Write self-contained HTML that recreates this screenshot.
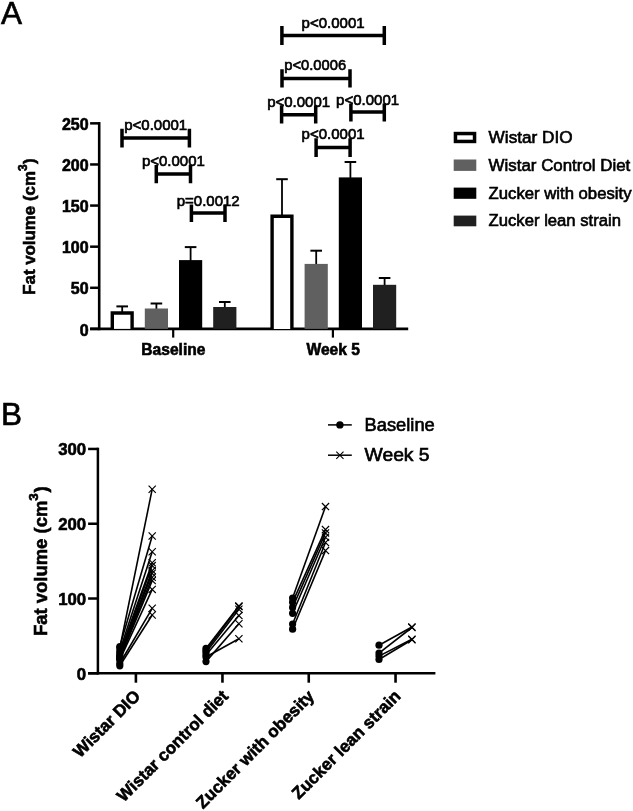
<!DOCTYPE html>
<html><head><meta charset="utf-8"><style>
html,body{margin:0;padding:0;background:#fff;width:633px;height:811px;overflow:hidden;font-family:"Liberation Sans",sans-serif;}
svg{display:block;will-change:transform}
text{stroke:#000;stroke-width:0.65px}
text.b{stroke-width:0.6px}
</style></head><body>
<svg width="633" height="811" viewBox="0 0 633 811"><text x="1" y="23.6" font-size="31.5" font-family="Liberation Sans, sans-serif">A</text>
<line x1="99.2" y1="122.05" x2="99.2" y2="330.20" stroke="#000" stroke-width="2.6"/>
<line x1="90.1" y1="328.90" x2="99.2" y2="328.90" stroke="#000" stroke-width="2.5"/>
<text x="88.6" y="335.60" font-size="16" font-weight="bold" class="b" text-anchor="end" font-family="Liberation Sans, sans-serif">0</text>
<line x1="90.1" y1="287.79" x2="99.2" y2="287.79" stroke="#000" stroke-width="2.5"/>
<text x="88.6" y="294.49" font-size="16" font-weight="bold" class="b" text-anchor="end" font-family="Liberation Sans, sans-serif">50</text>
<line x1="90.1" y1="246.68" x2="99.2" y2="246.68" stroke="#000" stroke-width="2.5"/>
<text x="88.6" y="253.38" font-size="16" font-weight="bold" class="b" text-anchor="end" font-family="Liberation Sans, sans-serif">100</text>
<line x1="90.1" y1="205.57" x2="99.2" y2="205.57" stroke="#000" stroke-width="2.5"/>
<text x="88.6" y="212.27" font-size="16" font-weight="bold" class="b" text-anchor="end" font-family="Liberation Sans, sans-serif">150</text>
<line x1="90.1" y1="164.46" x2="99.2" y2="164.46" stroke="#000" stroke-width="2.5"/>
<text x="88.6" y="171.16" font-size="16" font-weight="bold" class="b" text-anchor="end" font-family="Liberation Sans, sans-serif">200</text>
<line x1="90.1" y1="123.35" x2="99.2" y2="123.35" stroke="#000" stroke-width="2.5"/>
<text x="88.6" y="130.05" font-size="16" font-weight="bold" class="b" text-anchor="end" font-family="Liberation Sans, sans-serif">250</text>
<line x1="90.1" y1="328.9" x2="408.2" y2="328.9" stroke="#000" stroke-width="2.7"/>
<line x1="173.2" y1="328.9" x2="173.2" y2="337.6" stroke="#000" stroke-width="2.2"/>
<text x="173.4" y="355" font-size="15.6" font-weight="bold" class="b" text-anchor="middle" font-family="Liberation Sans, sans-serif">Baseline</text>
<line x1="332.9" y1="328.9" x2="332.9" y2="337.6" stroke="#000" stroke-width="2.2"/>
<text x="333.2" y="355" font-size="15.6" font-weight="bold" class="b" text-anchor="middle" font-family="Liberation Sans, sans-serif">Week 5</text>
<line x1="122.20" y1="306.40" x2="122.20" y2="312.30" stroke="#000" stroke-width="1.8"/>
<line x1="116.40" y1="306.40" x2="128.00" y2="306.40" stroke="#000" stroke-width="2.0"/>
<path d="M112.30 328.90V313.00H132.10V328.90" fill="#fff" stroke="#000" stroke-width="3.4"/>
<line x1="156.40" y1="303.50" x2="156.40" y2="309.50" stroke="#000" stroke-width="1.8"/>
<line x1="150.60" y1="303.50" x2="162.20" y2="303.50" stroke="#000" stroke-width="2.0"/>
<rect x="144.80" y="308.50" width="23.20" height="20.40" fill="#606060"/>
<line x1="190.60" y1="247.10" x2="190.60" y2="261.10" stroke="#000" stroke-width="1.8"/>
<line x1="184.80" y1="247.10" x2="196.40" y2="247.10" stroke="#000" stroke-width="2.0"/>
<rect x="179.00" y="260.10" width="23.20" height="68.80" fill="#000"/>
<line x1="224.80" y1="302.00" x2="224.80" y2="308.00" stroke="#000" stroke-width="1.8"/>
<line x1="219.00" y1="302.00" x2="230.60" y2="302.00" stroke="#000" stroke-width="2.0"/>
<rect x="213.20" y="307.00" width="23.20" height="21.90" fill="#202020"/>
<line x1="282.00" y1="179.20" x2="282.00" y2="215.60" stroke="#000" stroke-width="1.8"/>
<line x1="276.20" y1="179.20" x2="287.80" y2="179.20" stroke="#000" stroke-width="2.0"/>
<path d="M272.10 328.90V216.30H291.90V328.90" fill="#fff" stroke="#000" stroke-width="3.4"/>
<line x1="316.20" y1="250.70" x2="316.20" y2="264.90" stroke="#000" stroke-width="1.8"/>
<line x1="310.40" y1="250.70" x2="322.00" y2="250.70" stroke="#000" stroke-width="2.0"/>
<rect x="304.60" y="263.90" width="23.20" height="65.00" fill="#606060"/>
<line x1="350.40" y1="162.00" x2="350.40" y2="178.40" stroke="#000" stroke-width="1.8"/>
<line x1="344.60" y1="162.00" x2="356.20" y2="162.00" stroke="#000" stroke-width="2.0"/>
<rect x="338.80" y="177.40" width="23.20" height="151.50" fill="#000"/>
<line x1="384.60" y1="278.00" x2="384.60" y2="285.80" stroke="#000" stroke-width="1.8"/>
<line x1="378.80" y1="278.00" x2="390.40" y2="278.00" stroke="#000" stroke-width="2.0"/>
<rect x="373.00" y="284.80" width="23.20" height="44.10" fill="#202020"/>
<path d="M122.00 128.80V147.40M189.40 128.80V147.40M122.00 138.10H189.40" stroke="#000" stroke-width="3.5" fill="none"/>
<text x="155.70" y="129.60" font-size="15" text-anchor="middle" font-family="Liberation Sans, sans-serif">p&lt;0.0001</text>
<path d="M156.30 165.00V183.20M190.50 165.00V183.20M156.30 174.10H190.50" stroke="#000" stroke-width="3.5" fill="none"/>
<text x="173.40" y="166.00" font-size="15" text-anchor="middle" font-family="Liberation Sans, sans-serif">p&lt;0.0001</text>
<path d="M191.40 204.50V221.90M225.00 204.50V221.90M191.40 213.00H225.00" stroke="#000" stroke-width="3.5" fill="none"/>
<text x="208.20" y="205.70" font-size="15" text-anchor="middle" font-family="Liberation Sans, sans-serif">p=0.0012</text>
<path d="M281.90 26.10V45.10M384.30 26.10V45.10M281.90 35.60H384.30" stroke="#000" stroke-width="3.5" fill="none"/>
<text x="333.10" y="28.20" font-size="15" text-anchor="middle" font-family="Liberation Sans, sans-serif">p&lt;0.0001</text>
<path d="M282.00 69.20V87.40M350.00 69.20V87.40M282.00 78.60H350.00" stroke="#000" stroke-width="3.5" fill="none"/>
<text x="315.20" y="70.00" font-size="15" text-anchor="middle" textLength="61.8" lengthAdjust="spacingAndGlyphs" font-family="Liberation Sans, sans-serif">p&lt;0.0006</text>
<path d="M281.60 105.30V123.40M315.70 105.30V123.40M281.60 114.80H315.70" stroke="#000" stroke-width="3.5" fill="none"/>
<text x="298.65" y="106.90" font-size="15" text-anchor="middle" font-family="Liberation Sans, sans-serif">p&lt;0.0001</text>
<path d="M350.90 103.50V121.60M384.30 103.50V121.60M350.90 112.10H384.30" stroke="#000" stroke-width="3.5" fill="none"/>
<text x="367.60" y="105.40" font-size="15" text-anchor="middle" font-family="Liberation Sans, sans-serif">p&lt;0.0001</text>
<path d="M316.10 138.30V157.00M350.10 138.30V157.00M316.10 147.60H350.10" stroke="#000" stroke-width="3.5" fill="none"/>
<text x="333.10" y="138.80" font-size="15" text-anchor="middle" font-family="Liberation Sans, sans-serif">p&lt;0.0001</text>
<rect x="455.45" y="133.55" width="19.10" height="7.90" fill="#fff" stroke="#000" stroke-width="3.5"/>
<text x="488.6" y="143.00" font-size="17.2" font-family="Liberation Sans, sans-serif">Wistar DIO</text>
<rect x="453.7" y="159.50" width="22.6" height="11.40" fill="#606060"/>
<text x="488.6" y="170.70" font-size="17.2" textLength="141.7" lengthAdjust="spacingAndGlyphs" font-family="Liberation Sans, sans-serif">Wistar Control Diet</text>
<rect x="453.7" y="187.60" width="22.6" height="11.20" fill="#000"/>
<text x="488.6" y="198.60" font-size="17.2" textLength="142.9" lengthAdjust="spacingAndGlyphs" font-family="Liberation Sans, sans-serif">Zucker with obesity</text>
<rect x="453.7" y="215.60" width="22.6" height="10.70" fill="#202020"/>
<text x="488.6" y="226.10" font-size="17.2" textLength="132.4" lengthAdjust="spacingAndGlyphs" font-family="Liberation Sans, sans-serif">Zucker lean strain</text>
<text transform="translate(34.6,294.8) rotate(-90)" font-size="17" font-weight="bold" class="b" font-family="Liberation Sans, sans-serif"><tspan textLength="123.7" lengthAdjust="spacingAndGlyphs">Fat volume (cm</tspan><tspan font-size="12" dy="-8">3</tspan><tspan dy="8" dx="0.5">)</tspan></text>
<text x="0.9" y="424.9" font-size="31.5" font-family="Liberation Sans, sans-serif">B</text>
<line x1="97.9" y1="447.70" x2="97.9" y2="674.55" stroke="#000" stroke-width="2.5"/>
<line x1="88.1" y1="673.30" x2="97.9" y2="673.30" stroke="#000" stroke-width="2.5"/>
<text x="86.2" y="679.80" font-size="16.8" font-weight="bold" class="b" text-anchor="end" font-family="Liberation Sans, sans-serif">0</text>
<line x1="88.1" y1="598.52" x2="97.9" y2="598.52" stroke="#000" stroke-width="2.5"/>
<text x="86.2" y="605.02" font-size="16.8" font-weight="bold" class="b" text-anchor="end" font-family="Liberation Sans, sans-serif">100</text>
<line x1="88.1" y1="523.73" x2="97.9" y2="523.73" stroke="#000" stroke-width="2.5"/>
<text x="86.2" y="530.23" font-size="16.8" font-weight="bold" class="b" text-anchor="end" font-family="Liberation Sans, sans-serif">200</text>
<line x1="88.1" y1="448.95" x2="97.9" y2="448.95" stroke="#000" stroke-width="2.5"/>
<text x="86.2" y="455.45" font-size="16.8" font-weight="bold" class="b" text-anchor="end" font-family="Liberation Sans, sans-serif">300</text>
<line x1="88.1" y1="673.3" x2="435.4" y2="673.3" stroke="#000" stroke-width="2.6"/>
<line x1="135.9" y1="673.3" x2="135.9" y2="682.7" stroke="#000" stroke-width="2.6"/>
<text transform="translate(141.30,697.2) rotate(-45)" font-size="17" font-weight="bold" class="b" text-anchor="end" font-family="Liberation Sans, sans-serif">Wistar DIO</text>
<line x1="222.45" y1="673.3" x2="222.45" y2="682.7" stroke="#000" stroke-width="2.6"/>
<text transform="translate(229.30,697.2) rotate(-45)" font-size="17" font-weight="bold" class="b" text-anchor="end" font-family="Liberation Sans, sans-serif">Wistar control diet</text>
<line x1="308.75" y1="673.3" x2="308.75" y2="682.7" stroke="#000" stroke-width="2.6"/>
<text transform="translate(315.20,697.2) rotate(-45)" font-size="17" font-weight="bold" class="b" text-anchor="end" font-family="Liberation Sans, sans-serif">Zucker with obesity</text>
<line x1="395.55" y1="673.3" x2="395.55" y2="682.7" stroke="#000" stroke-width="2.6"/>
<text transform="translate(401.70,697.2) rotate(-45)" font-size="17" font-weight="bold" class="b" text-anchor="end" font-family="Liberation Sans, sans-serif">Zucker lean strain</text>
<line x1="119.8" y1="648" x2="152.2" y2="489.2" stroke="#000" stroke-width="1.6"/>
<line x1="119.8" y1="646.5" x2="152.2" y2="536" stroke="#000" stroke-width="1.6"/>
<line x1="119.8" y1="651" x2="152.2" y2="551.7" stroke="#000" stroke-width="1.6"/>
<line x1="119.8" y1="653" x2="152.2" y2="562.8" stroke="#000" stroke-width="1.6"/>
<line x1="119.8" y1="655" x2="152.2" y2="565.6" stroke="#000" stroke-width="1.6"/>
<line x1="119.8" y1="656" x2="152.2" y2="570.6" stroke="#000" stroke-width="1.6"/>
<line x1="119.8" y1="657" x2="152.2" y2="573.3" stroke="#000" stroke-width="1.6"/>
<line x1="119.8" y1="658" x2="152.2" y2="577.2" stroke="#000" stroke-width="1.6"/>
<line x1="119.8" y1="659" x2="152.2" y2="580.6" stroke="#000" stroke-width="1.6"/>
<line x1="119.8" y1="660" x2="152.2" y2="589.4" stroke="#000" stroke-width="1.6"/>
<line x1="119.8" y1="663.5" x2="152.2" y2="608.3" stroke="#000" stroke-width="1.6"/>
<line x1="119.8" y1="665.8" x2="152.2" y2="615" stroke="#000" stroke-width="1.6"/>
<circle cx="119.8" cy="648" r="3.6" fill="#000"/>
<path d="M148.60 485.60L155.80 492.80M148.60 492.80L155.80 485.60" stroke="#000" stroke-width="1.2"/>
<circle cx="119.8" cy="646.5" r="3.6" fill="#000"/>
<path d="M148.60 532.40L155.80 539.60M148.60 539.60L155.80 532.40" stroke="#000" stroke-width="1.2"/>
<circle cx="119.8" cy="651" r="3.6" fill="#000"/>
<path d="M148.60 548.10L155.80 555.30M148.60 555.30L155.80 548.10" stroke="#000" stroke-width="1.2"/>
<circle cx="119.8" cy="653" r="3.6" fill="#000"/>
<path d="M148.60 559.20L155.80 566.40M148.60 566.40L155.80 559.20" stroke="#000" stroke-width="1.2"/>
<circle cx="119.8" cy="655" r="3.6" fill="#000"/>
<path d="M148.60 562.00L155.80 569.20M148.60 569.20L155.80 562.00" stroke="#000" stroke-width="1.2"/>
<circle cx="119.8" cy="656" r="3.6" fill="#000"/>
<path d="M148.60 567.00L155.80 574.20M148.60 574.20L155.80 567.00" stroke="#000" stroke-width="1.2"/>
<circle cx="119.8" cy="657" r="3.6" fill="#000"/>
<path d="M148.60 569.70L155.80 576.90M148.60 576.90L155.80 569.70" stroke="#000" stroke-width="1.2"/>
<circle cx="119.8" cy="658" r="3.6" fill="#000"/>
<path d="M148.60 573.60L155.80 580.80M148.60 580.80L155.80 573.60" stroke="#000" stroke-width="1.2"/>
<circle cx="119.8" cy="659" r="3.6" fill="#000"/>
<path d="M148.60 577.00L155.80 584.20M148.60 584.20L155.80 577.00" stroke="#000" stroke-width="1.2"/>
<circle cx="119.8" cy="660" r="3.6" fill="#000"/>
<path d="M148.60 585.80L155.80 593.00M148.60 593.00L155.80 585.80" stroke="#000" stroke-width="1.2"/>
<circle cx="119.8" cy="663.5" r="3.6" fill="#000"/>
<path d="M148.60 604.70L155.80 611.90M148.60 611.90L155.80 604.70" stroke="#000" stroke-width="1.2"/>
<circle cx="119.8" cy="665.8" r="3.6" fill="#000"/>
<path d="M148.60 611.40L155.80 618.60M148.60 618.60L155.80 611.40" stroke="#000" stroke-width="1.2"/>
<line x1="206.0" y1="648.4" x2="238.9" y2="606" stroke="#000" stroke-width="1.6"/>
<line x1="206.0" y1="650.5" x2="238.9" y2="606.6" stroke="#000" stroke-width="1.6"/>
<line x1="206.0" y1="652.5" x2="238.9" y2="609.3" stroke="#000" stroke-width="1.6"/>
<line x1="206.0" y1="655" x2="238.9" y2="615.6" stroke="#000" stroke-width="1.6"/>
<line x1="206.0" y1="661.6" x2="238.9" y2="623.8" stroke="#000" stroke-width="1.6"/>
<line x1="206.0" y1="657" x2="238.9" y2="638.8" stroke="#000" stroke-width="1.6"/>
<circle cx="206.0" cy="648.4" r="3.6" fill="#000"/>
<path d="M235.30 602.40L242.50 609.60M235.30 609.60L242.50 602.40" stroke="#000" stroke-width="1.2"/>
<circle cx="206.0" cy="650.5" r="3.6" fill="#000"/>
<path d="M235.30 603.00L242.50 610.20M235.30 610.20L242.50 603.00" stroke="#000" stroke-width="1.2"/>
<circle cx="206.0" cy="652.5" r="3.6" fill="#000"/>
<path d="M235.30 605.70L242.50 612.90M235.30 612.90L242.50 605.70" stroke="#000" stroke-width="1.2"/>
<circle cx="206.0" cy="655" r="3.6" fill="#000"/>
<path d="M235.30 612.00L242.50 619.20M235.30 619.20L242.50 612.00" stroke="#000" stroke-width="1.2"/>
<circle cx="206.0" cy="661.6" r="3.6" fill="#000"/>
<path d="M235.30 620.20L242.50 627.40M235.30 627.40L242.50 620.20" stroke="#000" stroke-width="1.2"/>
<circle cx="206.0" cy="657" r="3.6" fill="#000"/>
<path d="M235.30 635.20L242.50 642.40M235.30 642.40L242.50 635.20" stroke="#000" stroke-width="1.2"/>
<line x1="292.6" y1="598.1" x2="325.5" y2="506.6" stroke="#000" stroke-width="1.6"/>
<line x1="292.6" y1="602.2" x2="325.5" y2="529.6" stroke="#000" stroke-width="1.6"/>
<line x1="292.6" y1="607.4" x2="325.5" y2="532.9" stroke="#000" stroke-width="1.6"/>
<line x1="292.6" y1="613.3" x2="325.5" y2="537.3" stroke="#000" stroke-width="1.6"/>
<line x1="292.6" y1="624" x2="325.5" y2="542.5" stroke="#000" stroke-width="1.6"/>
<line x1="292.6" y1="629.2" x2="325.5" y2="550.6" stroke="#000" stroke-width="1.6"/>
<circle cx="292.6" cy="598.1" r="3.6" fill="#000"/>
<path d="M321.90 503.00L329.10 510.20M321.90 510.20L329.10 503.00" stroke="#000" stroke-width="1.2"/>
<circle cx="292.6" cy="602.2" r="3.6" fill="#000"/>
<path d="M321.90 526.00L329.10 533.20M321.90 533.20L329.10 526.00" stroke="#000" stroke-width="1.2"/>
<circle cx="292.6" cy="607.4" r="3.6" fill="#000"/>
<path d="M321.90 529.30L329.10 536.50M321.90 536.50L329.10 529.30" stroke="#000" stroke-width="1.2"/>
<circle cx="292.6" cy="613.3" r="3.6" fill="#000"/>
<path d="M321.90 533.70L329.10 540.90M321.90 540.90L329.10 533.70" stroke="#000" stroke-width="1.2"/>
<circle cx="292.6" cy="624" r="3.6" fill="#000"/>
<path d="M321.90 538.90L329.10 546.10M321.90 546.10L329.10 538.90" stroke="#000" stroke-width="1.2"/>
<circle cx="292.6" cy="629.2" r="3.6" fill="#000"/>
<path d="M321.90 547.00L329.10 554.20M321.90 554.20L329.10 547.00" stroke="#000" stroke-width="1.2"/>
<line x1="379.0" y1="645.2" x2="411.9" y2="627" stroke="#000" stroke-width="1.6"/>
<line x1="379.0" y1="653.1" x2="411.9" y2="627.5" stroke="#000" stroke-width="1.6"/>
<line x1="379.0" y1="656.1" x2="411.9" y2="639.3" stroke="#000" stroke-width="1.6"/>
<line x1="379.0" y1="659.5" x2="411.9" y2="639.8" stroke="#000" stroke-width="1.6"/>
<circle cx="379.0" cy="645.2" r="3.6" fill="#000"/>
<path d="M408.30 623.40L415.50 630.60M408.30 630.60L415.50 623.40" stroke="#000" stroke-width="1.2"/>
<circle cx="379.0" cy="653.1" r="3.6" fill="#000"/>
<path d="M408.30 623.90L415.50 631.10M408.30 631.10L415.50 623.90" stroke="#000" stroke-width="1.2"/>
<circle cx="379.0" cy="656.1" r="3.6" fill="#000"/>
<path d="M408.30 635.70L415.50 642.90M408.30 642.90L415.50 635.70" stroke="#000" stroke-width="1.2"/>
<circle cx="379.0" cy="659.5" r="3.6" fill="#000"/>
<path d="M408.30 636.20L415.50 643.40M408.30 643.40L415.50 636.20" stroke="#000" stroke-width="1.2"/>
<line x1="328" y1="424.9" x2="351.8" y2="424.9" stroke="#000" stroke-width="1.5"/>
<circle cx="339.9" cy="424.9" r="3.7" fill="#000"/>
<text x="364.6" y="430.8" font-size="18.3" font-family="Liberation Sans, sans-serif">Baseline</text>
<line x1="328" y1="455.2" x2="351.8" y2="455.2" stroke="#000" stroke-width="1.5"/>
<path d="M336.29999999999995 451.59999999999997L343.5 458.8M336.29999999999995 458.8L343.5 451.59999999999997" stroke="#000" stroke-width="1.1"/>
<text x="364.6" y="461.1" font-size="18.3" textLength="65" lengthAdjust="spacingAndGlyphs" font-family="Liberation Sans, sans-serif">Week 5</text>
<text transform="translate(47.1,636) rotate(-90)" font-size="18.7" font-weight="bold" class="b" font-family="Liberation Sans, sans-serif"><tspan textLength="135.3" lengthAdjust="spacingAndGlyphs">Fat volume (cm</tspan><tspan font-size="13.5" dy="-9.6">3</tspan><tspan dy="9.6" dx="0.8">)</tspan></text></svg>
</body></html>
